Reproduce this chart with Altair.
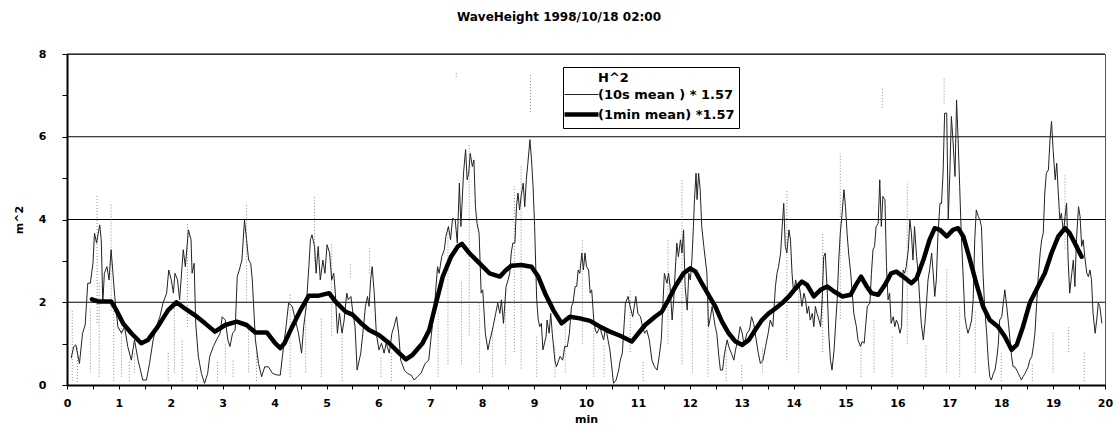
import altair as alt
import pandas as pd

# ---------------- data ----------------
thin_min = [0.08, 0.13, 0.17, 0.24, 0.30, 0.35, 0.40, 0.45, 0.50, 0.53, 0.57, 0.63, 0.66, 0.69, 0.72, 0.77, 0.81, 0.85, 0.88, 0.92,
            0.98, 1.05, 1.11, 1.17, 1.24, 1.30, 1.37, 1.46, 1.53, 1.59, 1.66, 1.72, 1.79, 1.85, 1.92, 1.96, 2.01, 2.05, 2.08, 2.13,
            2.17, 2.24, 2.28, 2.34, 2.39, 2.41, 2.45, 2.48, 2.53, 2.59, 2.65, 2.71, 2.75, 2.82, 2.88, 2.95, 2.99, 3.05, 3.10, 3.14,
            3.19, 3.24, 3.28, 3.32, 3.37, 3.42, 3.46, 3.50, 3.54, 3.57, 3.63, 3.69, 3.75, 3.81, 3.88, 3.96, 4.05, 4.11, 4.15, 4.22,
            4.27, 4.34, 4.40, 4.46, 4.52, 4.56, 4.61, 4.66, 4.69, 4.72, 4.77, 4.80, 4.84, 4.88, 4.93, 4.97, 5.01, 5.06, 5.10, 5.14,
            5.17, 5.21, 5.25, 5.30, 5.34, 5.39, 5.42, 5.47, 5.51, 5.55,
            5.59, 5.66, 5.70, 5.75, 5.79, 5.82, 5.85, 5.88, 5.92, 5.96, 6.01, 6.06, 6.11, 6.15, 6.21, 6.26, 6.30, 6.35, 6.39, 6.43,
            6.50, 6.56, 6.63, 6.69, 6.75, 6.82, 6.90, 6.97, 7.01, 7.08, 7.14, 7.17, 7.22, 7.27, 7.30, 7.35, 7.39, 7.43, 7.48, 7.52,
            7.56, 7.59, 7.64, 7.68, 7.71, 7.74, 7.77, 7.81, 7.84, 7.87, 7.90, 7.94, 7.98, 8.01, 8.06, 8.11, 8.15, 8.21, 8.26, 8.30,
            8.34, 8.37, 8.41, 8.46, 8.50, 8.53, 8.56, 8.59, 8.63, 8.66, 8.69, 8.72, 8.75, 8.79, 8.82, 8.85, 8.88, 8.92, 8.95, 8.98,
            9.01, 9.05, 9.08, 9.11, 9.14, 9.17, 9.23, 9.25, 9.29, 9.32, 9.35, 9.40, 9.43, 9.50, 9.55, 9.59, 9.64, 9.68, 9.72, 9.75,
            9.79, 9.82, 9.85, 9.88, 9.92, 9.95, 9.98, 10.01, 10.05, 10.08, 10.11, 10.15, 10.18, 10.21, 10.27, 10.30, 10.34, 10.37,
            10.40, 10.46, 10.49, 10.53, 10.58, 10.63, 10.66, 10.70,
            10.76, 10.81, 10.85, 10.90, 10.94, 10.96, 11.00, 11.05, 11.09, 11.13, 11.17, 11.22, 11.27, 11.32, 11.37, 11.41, 11.45,
            11.48, 11.51, 11.56, 11.59, 11.62, 11.66, 11.69, 11.72, 11.75, 11.78, 11.82, 11.85, 11.88, 11.91, 11.95, 11.98, 12.01,
            12.04, 12.07, 12.09, 12.12, 12.14, 12.17, 12.20, 12.23, 12.27, 12.30, 12.33, 12.36, 12.40, 12.43, 12.46, 12.49, 12.52,
            12.56, 12.59, 12.63, 12.67, 12.72, 12.75, 12.80, 12.85, 12.88, 12.93, 12.97, 13.01, 13.04, 13.07, 13.10, 13.15, 13.19,
            13.23, 13.28, 13.32, 13.36, 13.41, 13.46, 13.51, 13.55, 13.60, 13.65, 13.68, 13.71, 13.75, 13.78, 13.81, 13.84, 13.87,
            13.91, 13.94, 13.97, 14.00, 14.04, 14.07, 14.10, 14.13, 14.16, 14.20, 14.23, 14.26, 14.29, 14.32, 14.36, 14.39, 14.42,
            14.45, 14.49, 14.52, 14.55, 14.58, 14.61, 14.65, 14.68, 14.71, 14.74, 14.78, 14.81, 14.84, 14.87, 14.90, 14.94, 14.97,
            15.00, 15.03, 15.06, 15.10, 15.13, 15.16, 15.21, 15.24, 15.29, 15.32, 15.36,
            15.42, 15.47, 15.50, 15.53, 15.56, 15.59, 15.63, 15.66, 15.69, 15.72, 15.76, 15.79, 15.82, 15.85, 15.88, 15.92, 15.95,
            15.98, 16.01, 16.05, 16.08, 16.11, 16.14, 16.17, 16.21, 16.24, 16.27, 16.30, 16.33, 16.37, 16.40, 16.43, 16.46, 16.50,
            16.53, 16.56, 16.59, 16.62, 16.66, 16.69, 16.72, 16.75, 16.78, 16.82, 16.85, 16.88, 16.91, 16.95, 16.98, 17.01, 17.04,
            17.07, 17.11, 17.14, 17.17, 17.20, 17.23, 17.27, 17.30, 17.33, 17.36, 17.40, 17.43, 17.46, 17.49, 17.52, 17.56, 17.59,
            17.62, 17.65, 17.68, 17.72, 17.75, 17.78, 17.81, 17.85, 17.88, 17.91, 17.94, 17.97, 18.01, 18.04, 18.07, 18.10, 18.14,
            18.17, 18.20, 18.23, 18.26, 18.30, 18.33, 18.36, 18.39, 18.42, 18.46, 18.49, 18.52, 18.55, 18.59, 18.62, 18.65, 18.68,
            18.71, 18.75, 18.78, 18.81, 18.84, 18.87, 18.91, 18.94, 18.97, 19.00, 19.04, 19.07, 19.10, 19.13, 19.16, 19.20, 19.23,
            19.26, 19.29, 19.32, 19.36, 19.39, 19.42, 19.45, 19.49, 19.52, 19.55, 19.58, 19.61, 19.65, 19.68, 19.71, 19.74, 19.77,
            19.81, 19.84, 19.87, 19.90, 19.94]
thin_val = [0.65, 0.93, 0.97, 0.52, 1.25, 1.45, 2.46, 2.46, 2.94, 3.67, 3.43, 3.87, 3.51, 1.98, 2.70, 2.86, 2.54, 3.27, 2.78, 2.14,
            1.41, 1.25, 1.41, 0.93, 0.60, 1.09, 0.60, 0.12, 0.12, 0.52, 1.09, 1.41, 1.65, 1.98, 2.22, 2.78, 2.54, 2.22, 2.70, 2.54,
            2.06, 3.27, 2.86, 3.75, 3.51, 2.70, 2.94, 1.49, 0.69, 0.28, 0.04, 0.28, 0.69, 0.93, 1.09, 1.25, 1.65, 1.57, 1.09, 0.93,
            1.25, 1.33, 2.62, 2.78, 3.02, 3.99, 3.51, 3.02, 2.94, 2.54, 1.09, 0.52, 0.20, 0.44, 0.44, 0.28, 0.24, 0.24, 0.69, 1.41,
            1.98, 1.90, 1.57, 1.25, 0.77, 1.41, 1.90, 2.86, 3.51, 3.63, 3.35, 2.70, 3.35, 2.54, 3.02, 2.70, 3.39, 3.19, 2.54, 2.70,
            2.22, 1.25, 1.73, 1.25, 1.57, 2.22, 2.06, 2.14, 1.73, 1.41,
            0.36, 0.77, 1.25, 1.90, 2.14, 1.90, 2.54, 2.86, 2.22, 1.25, 0.85, 1.01, 0.77, 1.01, 0.77, 1.25, 1.41, 1.65, 1.25, 0.60,
            0.36, 0.28, 0.24, 0.12, 0.20, 0.28, 0.52, 0.60, 1.09, 1.90, 2.86, 2.70, 3.10, 3.27, 3.59, 3.83, 3.51, 4.03, 3.99, 3.43,
            4.88, 3.83, 5.12, 5.69, 4.96, 5.12, 5.60, 5.28, 5.44, 4.31, 3.91, 3.67, 2.22, 2.30, 1.25, 0.85, 1.09, 1.41, 1.73, 1.98,
            1.73, 2.06, 1.49, 2.38, 2.54, 2.70, 3.19, 3.43, 3.43, 4.31, 4.64, 4.23, 4.56, 4.88, 4.31, 4.96, 5.36, 5.93, 5.44, 4.80,
            3.83, 2.06, 1.57, 1.41, 1.49, 0.85, 1.17, 1.57, 1.25, 1.73, 1.25, 0.60, 0.44, 0.69, 0.60, 0.93, 0.93, 1.25, 1.90, 1.98,
            2.38, 2.38, 2.78, 2.70, 3.19, 2.78, 3.19, 2.86, 2.78, 2.22, 2.30, 1.57, 1.33, 1.25, 1.41, 1.25, 1.09, 1.33,
            1.25, 0.85, 0.52, 0.04, 0.12, 0.36, 0.60, 0.77,
            1.98, 2.14, 1.90, 1.65, 1.98, 2.14, 1.73, 1.65, 1.41, 1.25, 1.33, 1.09, 0.60, 0.44, 0.36, 0.69, 1.09,
            1.90, 2.70, 2.46, 2.70, 2.38, 1.57, 2.06, 2.78, 3.43, 3.10, 3.51, 3.19, 3.75, 2.38, 1.81, 2.70, 2.54,
            3.02, 3.83, 4.48, 5.12, 4.48, 5.12, 4.72, 3.83, 3.35, 3.02, 2.70, 1.41, 1.65, 1.90, 1.65, 1.41, 1.25,
            0.69, 0.36, 0.36, 0.77, 1.09, 0.93, 0.77, 0.60, 0.85, 1.09, 1.41, 1.25, 1.01, 1.09, 1.25, 1.33, 1.65,
            1.49, 1.09, 0.77, 0.52, 0.60, 0.93, 1.25, 1.57, 1.41, 2.38, 2.70, 2.86, 3.19, 3.83, 4.39, 3.35, 3.19,
            3.75, 3.51, 2.70, 2.22, 2.54, 2.30, 2.46, 2.22, 1.90, 2.22, 2.06, 1.73, 1.90, 1.57, 1.73, 1.41, 1.90,
            1.73, 1.57, 1.41, 2.06, 3.10, 3.19, 2.22, 1.17, 0.60, 0.36, 0.85, 1.49, 2.06, 3.02, 3.67, 4.23, 4.72,
            4.31, 3.67, 3.19, 2.70, 2.22, 1.73, 1.41, 1.09, 0.93, 1.05, 1.01,
            1.90, 1.98, 2.70, 3.27, 3.35, 3.83, 3.91, 4.96, 3.83, 4.56, 4.48, 2.86, 2.06, 2.22, 1.49, 1.65, 1.41,
            1.57, 1.49, 1.25, 1.41, 2.78, 2.70, 2.86, 3.27, 3.99, 3.67, 3.02, 3.83, 3.10, 2.70, 2.06, 1.49, 1.09,
            1.49, 1.98, 2.54, 2.78, 3.19, 2.70, 2.14, 2.54, 3.59, 4.39, 4.39, 5.12, 6.57, 6.57, 3.99, 5.12, 6.49,
            5.93, 5.04, 6.89, 5.93, 4.80, 3.67, 2.54, 1.65, 1.41, 1.25, 1.41, 1.57, 2.06, 3.51, 4.23, 4.07, 3.99,
            3.83, 2.70, 1.90, 1.25, 0.60, 0.20, 0.12, 0.28, 0.36, 0.60, 0.93, 1.57, 1.65, 1.98, 2.30, 1.98, 1.49,
            1.09, 0.69, 0.44, 0.44, 0.36, 0.28, 0.20, 0.12, 0.20, 0.28, 0.36, 0.44, 0.60, 0.69, 0.93, 1.25, 1.90,
            2.54, 3.19, 3.51, 3.67, 4.64, 5.12, 5.20, 5.93, 6.37, 5.69, 4.96, 5.36, 4.64, 3.99, 4.15, 3.67, 4.07,
            4.39, 3.02, 2.22, 2.70, 3.02, 2.38, 3.51, 4.31, 4.07, 3.35, 3.51, 3.10, 2.70, 2.62, 2.78, 2.54, 1.73,
            1.25, 1.57, 1.98, 1.90, 1.49]

thick_min = [0.48, 0.59, 0.85, 0.95, 1.08, 1.24, 1.43, 1.56, 1.75, 1.95, 2.11, 2.27, 2.46, 2.66, 2.85, 3.05, 3.27, 3.46, 3.63,
             3.85, 4.01, 4.11, 4.19, 4.34, 4.50, 4.66, 4.85, 5.05, 5.17, 5.37, 5.50, 5.66, 5.82, 6.01, 6.21, 6.40, 6.53, 6.66,
             6.85, 6.98, 7.11, 7.24, 7.40, 7.53, 7.61, 7.75, 7.95, 8.14, 8.34, 8.46, 8.56, 8.75, 8.95, 9.08, 9.21, 9.37, 9.53,
             9.69, 9.88, 10.08, 10.27, 10.46, 10.66, 10.88, 11.01, 11.14, 11.33, 11.46, 11.59, 11.72, 11.88, 12.01, 12.11, 12.23,
             12.36, 12.49, 12.62, 12.75, 12.88, 13.01, 13.14, 13.26, 13.39, 13.52, 13.65, 13.78, 13.91, 14.04, 14.16, 14.26,
             14.39, 14.52, 14.65, 14.78, 14.94, 15.10, 15.20, 15.30, 15.40, 15.50, 15.63, 15.76, 15.88, 15.98, 16.11, 16.27,
             16.37, 16.50, 16.62, 16.72, 16.82, 16.95, 17.07, 17.17, 17.27, 17.40, 17.52, 17.65, 17.78, 17.94, 18.07, 18.20,
             18.30, 18.42, 18.55, 18.71, 18.84, 18.97, 19.10, 19.23, 19.32, 19.45, 19.55]
thick_val = [2.07, 2.02, 2.02, 1.81, 1.49, 1.25, 1.01, 1.09, 1.41, 1.81, 2.00, 1.85, 1.69, 1.49, 1.29, 1.45, 1.53, 1.45, 1.27,
             1.27, 1.01, 0.89, 1.01, 1.41, 1.81, 2.16, 2.16, 2.22, 2.02, 1.77, 1.70, 1.50, 1.33, 1.21, 1.01, 0.77, 0.62, 0.73,
             1.01, 1.33, 1.98, 2.62, 3.10, 3.35, 3.41, 3.19, 2.94, 2.70, 2.62, 2.78, 2.88, 2.90, 2.86, 2.62, 2.22, 1.81, 1.49,
             1.65, 1.61, 1.55, 1.41, 1.29, 1.19, 1.05, 1.25, 1.45, 1.65, 1.77, 2.06, 2.38, 2.70, 2.82, 2.74, 2.46,
             2.18, 1.90, 1.53, 1.25, 1.05, 0.97, 1.09, 1.33, 1.57, 1.73, 1.85, 1.98, 2.14, 2.34, 2.50, 2.42,
             2.14, 2.30, 2.38, 2.26, 2.14, 2.18, 2.42, 2.62, 2.40, 2.22, 2.18, 2.42, 2.70, 2.74, 2.62, 2.46,
             2.58, 3.02, 3.51, 3.79, 3.75, 3.59, 3.75, 3.79, 3.59, 3.02, 2.46, 1.90, 1.57, 1.41, 1.17, 0.85,
             0.97, 1.41, 1.98, 2.38, 2.70, 3.19, 3.59, 3.79, 3.67, 3.35, 3.10]

# raw H^2 samples: dotted vertical columns (minute, lowest, highest)
h2_min = [0.10, 0.20, 0.45, 0.58, 0.62, 0.85, 0.90, 1.05, 1.20, 1.30, 1.95, 2.07, 2.22, 2.32, 2.50, 2.90, 3.05, 3.20, 3.46,
          3.50, 3.65, 4.30, 4.60, 4.77, 4.90, 5.10, 5.30, 5.46, 5.83, 6.05, 6.25, 7.15, 7.34, 7.50, 7.60, 7.75, 7.95, 8.20,
          8.45, 8.62, 8.75, 8.93, 9.05, 9.40, 9.60, 9.93, 10.15, 10.35, 10.85, 11.10, 11.58, 11.85, 12.05, 12.16, 12.35,
          12.70, 13.00, 13.40, 13.87, 14.10, 14.56, 14.90, 15.30, 15.55, 15.71, 15.90, 16.19, 16.55, 16.90, 16.95, 17.20,
          17.50, 18.00, 18.60, 19.00, 19.23, 19.30, 19.60]
h2_lo = [0.1, 0.0, 0.3, 1.5, 0.2, 1.8, 0.1, 0.2, 0.1, 0.3, 0.1, 0.3, 0.1, 1.4, 0.1, 0.1, 0.3, 0.2, 2.0,
         0.3, 0.1, 0.2, 0.3, 3.0, 0.2, 1.2, 0.1, 2.6, 2.7, 0.2, 0.1, 0.2, 0.5, 7.45, 0.5, 1.2, 0.3, 0.2,
         0.5, 0.8, 0.4, 6.6, 0.2, 0.2, 0.3, 1.0, 0.2, 0.2, 0.8, 0.1, 1.0, 0.5, 0.3, 6.25, 0.2,
         0.1, 0.1, 0.3, 0.6, 0.3, 0.8, 1.6, 0.2, 0.3, 6.7, 0.2, 1.0, 0.2, 6.8, 0.3, 0.2,
         0.3, 0.1, 0.1, 0.3, 3.3, 0.8, 0.1]
h2_hi = [1.8, 0.9, 1.9, 4.6, 2.5, 4.4, 1.9, 1.6, 0.6, 0.8, 0.8, 1.9, 1.1, 3.9, 0.4, 0.6, 1.0, 0.6, 4.4,
         1.4, 0.8, 2.2, 1.6, 4.6, 1.6, 3.4, 1.2, 2.94, 3.3, 0.7, 0.8, 1.8, 3.8, 7.55, 2.5, 5.8, 2.0, 1.4,
         2.3, 4.8, 5.3, 7.5, 1.2, 1.0, 1.5, 3.5, 1.5, 1.0, 2.3, 0.6, 3.5, 4.96, 1.9, 6.45, 2.2,
         0.9, 0.5, 0.9, 4.7, 2.4, 3.7, 5.6, 0.9, 1.6, 7.2, 1.2, 4.88, 1.0, 7.4, 2.8, 1.9,
         1.8, 0.8, 0.5, 1.3, 5.1, 1.4, 0.8]

grid_levels = [2, 4, 6, 8]
x_tick_values = [0, 0.5, 1, 1.5, 2, 2.5, 3, 3.5, 4, 4.5, 5, 5.5, 6, 6.5, 7, 7.5, 8, 8.5, 9, 9.5, 10,
                 10.5, 11, 11.5, 12, 12.5, 13, 13.5, 14, 14.5, 15, 15.5, 16, 16.5, 17, 17.5, 18, 18.5, 19, 19.5, 20]
y_tick_values = [0, 1, 2, 3, 4, 5, 6, 7, 8]

S_H2 = "H^2"
S_10 = "(10s mean ) * 1.57"
S_1M = "(1min mean) *1.57"
series_names = [S_H2, S_10, S_1M]

# ---------------- tables ----------------
thin_df = pd.DataFrame({"t": thin_min, "v": thin_val, "series": S_10})
thick_df = pd.DataFrame({"t": thick_min, "v": thick_val, "series": S_1M})
h2_df = pd.DataFrame({"t": h2_min, "lo": h2_lo, "hi": h2_hi, "series": S_H2})
grid_df = pd.DataFrame({"g": grid_levels})

FONT = "DejaVu Sans"
THIN_W = 1
THICK_W = 4.5

x_scale = alt.Scale(domain=[0, 20], nice=False, zero=False)
y_scale = alt.Scale(domain=[0, 8], nice=False, zero=True)
color_scale = alt.Scale(domain=series_names, range=["#8a8a8a", "#222222", "#000000"])

legend_width_expr = (
    f"datum.value === '{S_1M}' ? {THICK_W} : (datum.value === '{S_H2}' ? 0 : {THIN_W})"
)

legend = alt.Legend(
    title=None, orient="none", legendX=496, legendY=13,
    symbolType="M-2,0H2", symbolSize=289, symbolOffset=8,
    symbolStrokeWidth={"expr": legend_width_expr},
    fillColor="white", strokeColor="black", padding=4, rowPadding=3,
    labelFont=FONT, labelFontSize=13, labelFontWeight="bold", labelColor="black",
    labelLimit=400, labelOffset=10,
)

x_axis = alt.Axis(
    values=x_tick_values,
    labelExpr="datum.value % 1 == 0 ? format(datum.value, 'd') : ''",
    grid=False, tickSize=4, tickColor="black", domainColor="black", domainWidth=2,
    labelFont=FONT, labelFontSize=11, labelFontWeight="bold", labelColor="black",
    labelPadding=8, labelFlush=False, labelOverlap=False,
    title="min", titleFont=FONT, titleFontSize=11, titleFontWeight="bold", titleColor="black",
    titlePadding=5,
)
y_axis = alt.Axis(
    values=y_tick_values,
    labelExpr="datum.value % 2 == 0 ? format(datum.value, 'd') : ''",
    grid=False, tickSize=5, tickColor="black", domainColor="black", domainWidth=2,
    labelFont=FONT, labelFontSize=11, labelFontWeight="bold", labelColor="black",
    labelPadding=16, labelOverlap=False,
    title="m^2", titleFont=FONT, titleFontSize=11, titleFontWeight="bold", titleColor="black",
    titlePadding=14,
)


def X(f):
    return alt.X(f, scale=x_scale, axis=x_axis)


def Y(f):
    return alt.Y(f, scale=y_scale, axis=y_axis)


def C():
    return alt.Color("series:N", scale=color_scale, legend=legend)


grid = alt.Chart(grid_df).mark_rule(color="black", strokeWidth=1).encode(y=Y("g:Q"))

raw = alt.Chart(h2_df).mark_rule(strokeDash=[1, 2], strokeWidth=1).encode(
    x=X("t:Q"), y=Y("lo:Q"), y2="hi:Q", color=C()
)

thin = alt.Chart(thin_df).mark_line(strokeWidth=THIN_W).encode(
    x=X("t:Q"), y=Y("v:Q"), color=C()
)

thick = alt.Chart(thick_df).mark_line(strokeWidth=THICK_W, strokeJoin="round", strokeCap="round").encode(
    x=X("t:Q"), y=Y("v:Q"), color=C()
)

chart = alt.layer(grid, raw, thin, thick).properties(
    width=1038, height=331,
    autosize=alt.AutoSizeParams(type="none"),
    padding={"left": 67, "top": 54, "right": 13, "bottom": 43},
    title=alt.TitleParams(
        "WaveHeight 1998/10/18 02:00", font=FONT, fontSize=12, fontWeight="bold",
        color="black", anchor="middle", offset=24, dx=-27,
    ),
    background="white",
).configure_view(stroke="#555555", strokeWidth=1)

chart.save("out.html", embed_options={"renderer": "svg", "actions": False})
